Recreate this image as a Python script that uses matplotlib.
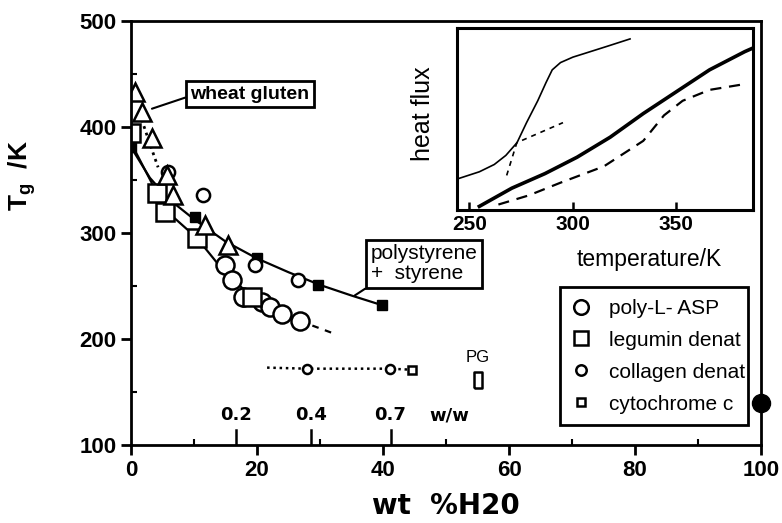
import matplotlib
matplotlib.use('Agg')
import numpy as np
from matplotlib import pyplot as plt
from matplotlib.lines import Line2D

plt.rcParams['font.family'] = ['Liberation Sans', 'DejaVu Sans']
plt.rcParams['mathtext.fontset'] = 'custom'
plt.rcParams['mathtext.bf'] = 'Liberation Sans:bold'
plt.rcParams['mathtext.rm'] = 'Liberation Sans'

# ---- main panel data (wt % H2O, Tg / K) ----
wheat_x = [0.6, 1.7, 3.3, 5.7, 6.7, 11.7, 15.4]
wheat_y = [433, 414, 390, 355, 336, 308, 289]

legumin_x = [0, 4.1, 5.4, 10.5, 19.2]
legumin_y = [394, 338, 320, 295, 240]

asp_x = [14.9, 16.0, 17.8, 20.8, 22.0, 24.0, 26.8]
asp_y = [270, 256, 240, 235, 230, 224, 217]

collagen_x = [5.8, 11.4, 19.7, 26.5]
collagen_y = [358, 336, 270, 256]

ps_x = [0, 10.2, 20, 29.7, 39.8]
ps_y = [381, 315, 276, 251, 232]

# fitted curves
ps_curve_x = [0, 3, 6, 10, 15, 20, 25, 30, 35, 39.8]
ps_curve_y = [381, 352, 332, 313, 292, 276, 263, 251, 241, 232]
low_curve_x = [0, 4.1, 5.4, 10.5, 15, 19.2, 23, 26.8]
low_curve_y = [385, 338, 322, 295, 262, 240, 226, 217]
low_ext_x = [26.8, 30, 32.7]
low_ext_y = [217, 210, 204]
wheat_dot_x = [1.7, 3.0, 4.3]
wheat_dot_y = [407, 384, 362]

# hydration series along dotted line
hyd_x = [21.6, 27.9, 41.1, 44.6]
hyd_y = [173, 172, 172, 171]
hyd_circ_x = [27.9, 41.1]
hyd_circ_y = [172, 172]
cyt_x = [44.6]
cyt_y = [171]
pg_x = [55]
pg_y = [161]
water_x = [100]
water_y = [140]

ww_pos = [16.7, 28.6, 41.2]
ww_labels = ['0.2', '0.4', '0.7']

# ---- inset data (temperature / K, heat flux arb.) ----
c1_T = [244, 254.8, 262, 267.6, 273, 277.6, 283, 287, 290, 294, 300, 305.6, 316.7, 327.6]
c1_h = [0.17, 0.21, 0.25, 0.30, 0.37, 0.48, 0.60, 0.70, 0.77, 0.81, 0.84, 0.86, 0.90, 0.94]
c1t_T = [268, 272.9, 295.2]
c1t_h = [0.19, 0.37, 0.48]
c2_T = [254.8, 270.5, 286.5, 302, 318, 334, 350, 366, 383, 387]
c2_h = [0.02, 0.12, 0.20, 0.29, 0.40, 0.53, 0.65, 0.77, 0.87, 0.89]
c3_T = [264, 278.6, 294, 315, 334, 344, 353, 366, 382]
c3_h = [0.03, 0.08, 0.15, 0.24, 0.38, 0.52, 0.60, 0.66, 0.69]

fig = plt.figure(figsize=(7.82, 5.23), dpi=100)
ax = fig.add_axes([131/782, 78/523, 630/782, 424/523])

lw = 1.6
ax.plot(ps_curve_x, ps_curve_y, color='black', lw=lw)
ax.plot(low_curve_x, low_curve_y, color='black', lw=lw)
ax.plot(low_ext_x, low_ext_y, color='black', lw=lw, ls=(0, (3, 3)))
ax.plot(wheat_dot_x, wheat_dot_y, color='black', lw=2, ls=(0, (1, 1.5)))
ax.plot(hyd_x, hyd_y, color='black', lw=1.8, ls=(0, (1, 1.5)))

mk = dict(ls='none', mec='black', mfc='white', mew=1.8)
ax.plot(ps_x, ps_y, marker='s', ms=6.5, mfc='black', ls='none', mec='black')
ax.plot(collagen_x, collagen_y, marker='o', ms=9.5, **mk)
ax.plot(asp_x, asp_y, marker='o', ms=13, **mk)
ax.plot(legumin_x, legumin_y, marker='s', ms=13, **mk)
ax.plot(wheat_x, wheat_y, marker='^', ms=12.5, **mk)
ax.plot(hyd_circ_x, hyd_circ_y, marker='o', ms=6.5, **mk)
ax.plot(cyt_x, cyt_y, marker='s', ms=6, **mk)
rect = [(-0.55, -1), (0.55, -1), (0.55, 1), (-0.55, 1), (-0.55, -1)]
ax.plot(pg_x, pg_y, marker=rect, ms=11, **mk)
ax.plot(water_x, water_y, marker='o', ms=13, color='black', ls='none', clip_on=False, zorder=5)

ax.text(pg_x[0], 183, 'PG', ha='center', va='center', fontsize=12)

# w/w scale marks
for p, lab in zip(ww_pos, ww_labels):
    ax.plot([p, p], [100, 114], color='black', lw=1.8)
    ax.text(p, 128, lab, ha='center', va='center', fontsize=13, fontweight='bold',
            family='DejaVu Sans')
ax.text(50.6, 128, 'w/w', ha='center', va='center', fontsize=13, fontweight='bold',
        family='DejaVu Sans')

# annotation boxes
box = dict(boxstyle='square,pad=0.22', fc='white', ec='black', lw=2)
ax.annotate('wheat gluten', xy=(2.7, 416), xytext=(18.9, 431), fontsize=14,
            fontweight='bold', ha='center', va='center', bbox=box,
            arrowprops=dict(arrowstyle='-', color='black', lw=1.5, shrinkA=0, shrinkB=3,
                            relpos=(0, 0.4)))
ax.annotate('polystyrene\n+  styrene', xy=(35.5, 241), xytext=(46.5, 271), fontsize=15,
            ha='center', va='center', multialignment='left', bbox=box, linespacing=1.05,
            arrowprops=dict(arrowstyle='-', color='black', lw=1.5, shrinkA=0, shrinkB=0,
                            relpos=(0.03, 0)))

ax.set_xlim(0, 100)
ax.set_ylim(100, 500)
ax.set_xticks(np.arange(0, 101, 20))
ax.set_xticks(np.arange(10, 100, 20), minor=True)
ax.set_yticks(np.arange(100, 501, 100))
ax.set_yticks(np.arange(150, 500, 100), minor=True)
ax.tick_params(which='major', direction='out', length=7, width=2, labelsize=16)
ax.tick_params(which='minor', direction='in', length=4, width=1.5)
for lab in ax.get_xticklabels() + ax.get_yticklabels():
    lab.set_fontweight('bold')
for s in ax.spines.values():
    s.set_linewidth(2)

ax.set_xlabel('wt  %H20', fontsize=20, fontweight='bold', family='DejaVu Sans', labelpad=8)
fig.text(22/782, 1 - 175/523, r'$\mathbf{T_g}$  /K', rotation=90, fontsize=19,
         fontweight='bold', ha='center', va='center')

handles = [
    Line2D([], [], marker='o', ms=10.5, **mk),
    Line2D([], [], marker='s', ms=10.5, **mk),
    Line2D([], [], marker='o', ms=7.5, **mk),
    Line2D([], [], marker='s', ms=5.5, **mk),
]
labels = ['poly-L- ASP', 'legumin denat', 'collagen denat', 'cytochrome c']
leg = ax.legend(handles, labels, loc='lower left', bbox_to_anchor=(0.681, 0.047, 0.298, 0.337),
                mode='expand', fontsize=15, labelspacing=0.62, handlelength=0.9,
                handletextpad=0.9, borderpad=0.55, borderaxespad=0, fancybox=False,
                framealpha=1)
leg.get_frame().set_edgecolor('black')
leg.get_frame().set_linewidth(2)

# ---- inset ----
ins = fig.add_axes([457/782, 313/523, 296/782, 182/523])
ins.plot(c1_T, c1_h, color='black', lw=1.2)
ins.plot(c1t_T, c1t_h, color='black', lw=1.2, ls=(0, (3, 3)))
ins.plot(c2_T, c2_h, color='black', lw=2.6)
ins.plot(c3_T, c3_h, color='black', lw=1.6, ls=(0, (5, 3.5)))
ins.set_xlim(244, 387)
ins.set_ylim(0, 1)
ins.set_yticks([])
ins.set_xticks([250, 300, 350])
ins.tick_params(direction='in', length=6, width=1.8, labelsize=15)
for lab in ins.get_xticklabels():
    lab.set_fontweight('bold')
for s in ins.spines.values():
    s.set_linewidth(2.2)
ins.set_xlabel('temperature/K', fontsize=16.5)
ins.xaxis.set_label_coords(0.649, -0.21)
ins.set_ylabel('heat flux', fontsize=18)
ins.yaxis.set_label_coords(-0.074, 0.53)

fig.savefig('out.png', dpi=100)
